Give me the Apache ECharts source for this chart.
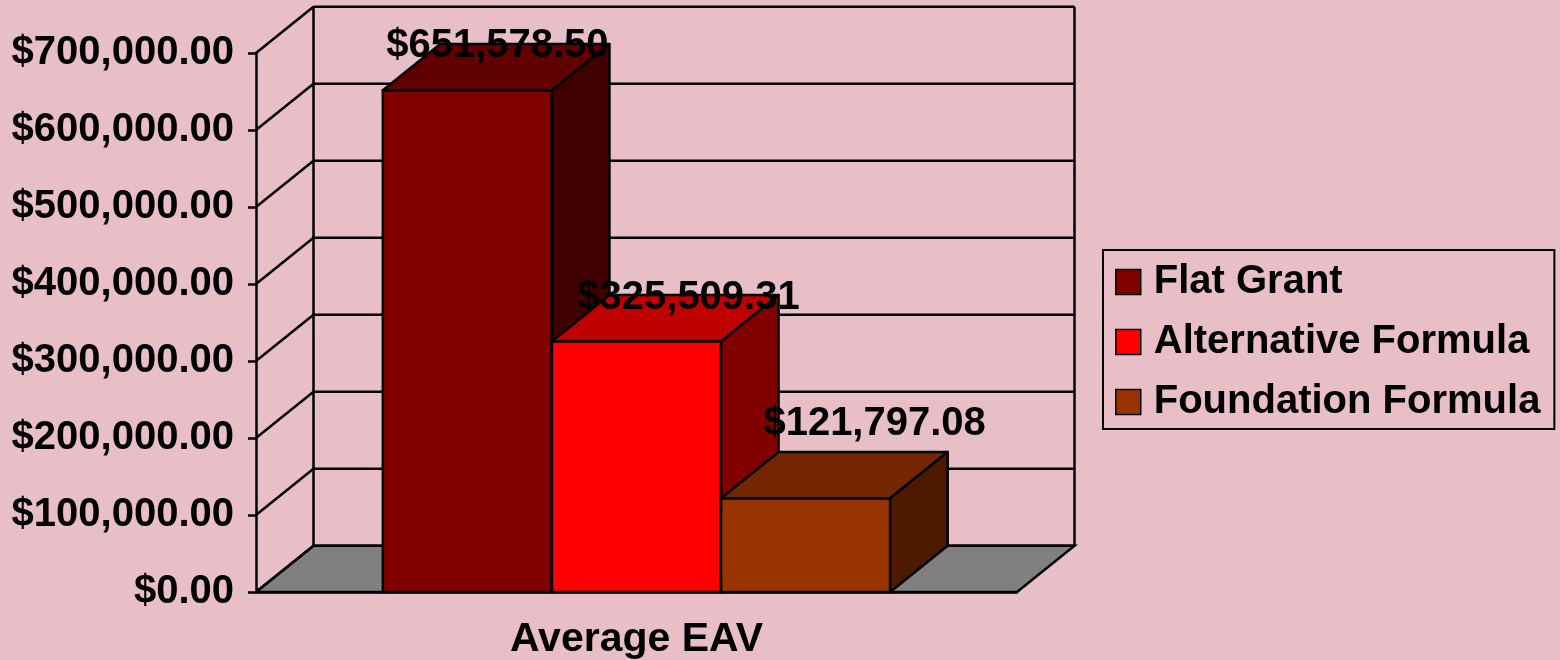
<!DOCTYPE html>
<html>
<head>
<meta charset="utf-8">
<script src="https://cdn.jsdelivr.net/npm/echarts@6/dist/echarts.min.js"></script>
<style>
  html, body { margin: 0; padding: 0; background: #E8BEC7; }
  #chart { width: 1560px; height: 660px; }
</style>
</head>
<body>
<div id="chart"></div>
<script>
// ---- data ----
const categories = ['Average EAV'];
const seriesNames = ['Flat Grant', 'Alternative Formula', 'Foundation Formula'];
const flatGrant = [651578.50];
const alternativeFormula = [325509.31];
const foundationFormula = [121797.08];
const yTicks = [0, 100000, 200000, 300000, 400000, 500000, 600000, 700000];

// ---- styles / layout constants ----
const FONT = '"Liberation Sans", Arial, sans-serif';
const FS = 40;
const LW = 2.5;
const DX = 57.5, DY = -46.3;           // 3D depth offset
const faceColors = [
  { front: '#800000', top: '#600000', side: '#400000' },
  { front: '#FF0000', top: '#C00000', side: '#800000' },
  { front: '#993300', top: '#732600', side: '#4D1A00' }
];
const labelShift = [[30, -44], [52, -43], [69, -74]];

function money(v) {
  return '$' + Number(v).toLocaleString('en-US', { minimumFractionDigits: 2, maximumFractionDigits: 2 });
}

const chart = echarts.init(document.getElementById('chart'));

function wallRender(params, api) {
  const v = api.value(1);
  const c = api.coord([api.value(0), v]);
  const band = api.size([1, 0])[0];
  const xl = c[0] - band / 2, xr = c[0] + band / 2;
  const y = c[1];
  const ls = { stroke: '#000', lineWidth: LW };
  const children = [];
  if (v === 0) {
    const yTop = api.coord([0, yTicks[yTicks.length - 1]])[1];
    children.push({
      type: 'polygon',
      shape: { points: [[xl, y], [xr, y], [xr + DX, y + DY], [xl + DX, y + DY]] },
      style: { fill: '#808080', stroke: '#000', lineWidth: LW }
    });
    children.push({ type: 'line', shape: { x1: xl + DX, y1: y + DY, x2: xl + DX, y2: yTop + DY }, style: ls });
    children.push({ type: 'line', shape: { x1: xr + DX, y1: y + DY, x2: xr + DX, y2: yTop + DY }, style: ls });
  }
  children.push({ type: 'line', shape: { x1: xl + DX, y1: y + DY, x2: xr + DX, y2: y + DY }, style: ls });
  children.push({ type: 'line', shape: { x1: xl, y1: y, x2: xl + DX, y2: y + DY }, style: ls });
  return { type: 'group', children };
}

function makeBarRender(idx) {
  return function (params, api) {
    const v = api.value(1);
    const base = api.coord([api.value(0), 0]);
    const top = api.coord([api.value(0), v]);
    const band = api.size([1, 0])[0];
    const bw = band / 4.5;
    const x0 = base[0] - band / 2 + bw * 0.75 + idx * bw;
    const x1 = x0 + bw;
    const y0 = base[1], y1 = top[1];
    const col = faceColors[idx];
    const st = { stroke: '#000', lineWidth: LW, lineJoin: 'round' };
    return {
      type: 'group',
      children: [
        { type: 'polygon', shape: { points: [[x0, y1], [x1, y1], [x1, y0], [x0, y0]] },
          style: Object.assign({ fill: col.front }, st) },
        { type: 'polygon', shape: { points: [[x0, y1], [x1, y1], [x1 + DX, y1 + DY], [x0 + DX, y1 + DY]] },
          style: Object.assign({ fill: col.top }, st) },
        { type: 'polygon', shape: { points: [[x1, y1], [x1 + DX, y1 + DY], [x1 + DX, y0 + DY], [x1, y0]] },
          style: Object.assign({ fill: col.side }, st) },
        { type: 'text', z2: 100,
          style: { text: money(v), x: (x0 + x1) / 2 + labelShift[idx][0], y: y1 + labelShift[idx][1],
                   align: 'center', verticalAlign: 'middle',
                   font: 'bold ' + FS + 'px ' + FONT, fill: '#000' } }
      ]
    };
  };
}

const seriesData = [flatGrant, alternativeFormula, foundationFormula];

const option = {
  backgroundColor: '#E8BEC7',
  animation: false,
  grid: { left: 256, right: 543, top: 53, bottom: 67, containLabel: false },
  legend: {
    data: seriesNames,
    orient: 'vertical',
    left: 1103, top: 250,
    padding: [12, 14, 7, 12],
    itemWidth: 25, itemHeight: 25, itemGap: 20,
    icon: 'rect',
    borderColor: '#000', borderWidth: 2,
    itemStyle: { borderColor: '#000', borderWidth: 1.5 },
    textStyle: { fontFamily: FONT, fontSize: FS, fontWeight: 'bold', color: '#000', lineHeight: 40, padding: [0, 0, 0, 8] }
  },
  xAxis: {
    type: 'category',
    data: categories,
    axisLine: { lineStyle: { color: '#000', width: LW } },
    axisTick: { length: 9, lineStyle: { color: '#000', width: LW } },
    axisLabel: { fontFamily: FONT, fontSize: 41, fontWeight: 'bold', color: '#000', margin: 27 },
    splitLine: { show: false }
  },
  yAxis: {
    type: 'value',
    min: yTicks[0], max: yTicks[yTicks.length - 1], interval: yTicks[1] - yTicks[0],
    axisLine: { show: true, lineStyle: { color: '#000', width: LW } },
    axisTick: { show: true, length: 8, lineStyle: { color: '#000', width: LW } },
    axisLabel: { fontFamily: FONT, fontSize: FS, fontWeight: 'bold', color: '#000', margin: 22, formatter: money },
    splitLine: { show: false }
  },
  series: [
    {
      type: 'custom', name: '_walls', z: 1, silent: true,
      renderItem: wallRender,
      data: yTicks.map(v => [0, v]),
      encode: { x: 0, y: 1 }
    }
  ].concat(seriesNames.map((name, i) => ({
    type: 'custom', name: name, z: 3 + i,
    itemStyle: { color: faceColors[i].front },
    renderItem: makeBarRender(i),
    data: seriesData[i].map((v, k) => [k, v]),
    encode: { x: 0, y: 1 }
  })))
};

chart.setOption(option);
</script>
</body>
</html>
